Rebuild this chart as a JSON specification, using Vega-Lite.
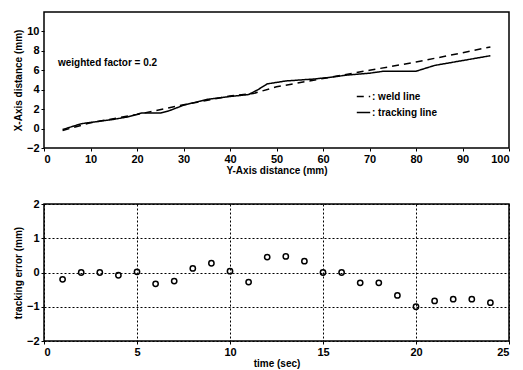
{
  "$schema": "https://vega.github.io/schema/vega-lite/v6.json",
  "background": "white",
  "padding": {"left": 12, "top": 11, "right": 10, "bottom": 2},
  "spacing": 21,
  "config": {
    "font": "Liberation Sans",
    "view": {"stroke": "black", "strokeWidth": 1.5},
    "axis": {
      "labelFont": "Liberation Sans", "labelFontWeight": "bold", "labelFontSize": 11, "labelColor": "black",
      "titleFont": "Liberation Sans", "titleFontWeight": "bold", "titleFontSize": 10, "titleColor": "black",
      "domain": false, "tickColor": "black", "tickSize": 3, "tickWidth": 1, "labelPadding": 2, "labelOverlap": false
    }
  },
  "datasets": {
    "path": [
      {"series": "weld line", "y": 4, "x": -0.2},
      {"series": "weld line", "y": 10, "x": 0.6},
      {"series": "weld line", "y": 20, "x": 1.45},
      {"series": "weld line", "y": 30, "x": 2.45},
      {"series": "weld line", "y": 40, "x": 3.35},
      {"series": "weld line", "y": 45, "x": 3.6},
      {"series": "weld line", "y": 50, "x": 4.3},
      {"series": "weld line", "y": 60, "x": 5.15},
      {"series": "weld line", "y": 70, "x": 6.0},
      {"series": "weld line", "y": 80, "x": 6.85},
      {"series": "weld line", "y": 90, "x": 7.8},
      {"series": "weld line", "y": 96, "x": 8.4},
      {"series": "tracking line", "y": 4, "x": -0.1},
      {"series": "tracking line", "y": 8, "x": 0.5},
      {"series": "tracking line", "y": 15, "x": 0.95},
      {"series": "tracking line", "y": 18, "x": 1.2},
      {"series": "tracking line", "y": 21, "x": 1.6},
      {"series": "tracking line", "y": 25, "x": 1.6},
      {"series": "tracking line", "y": 27, "x": 1.85},
      {"series": "tracking line", "y": 30, "x": 2.4},
      {"series": "tracking line", "y": 35, "x": 3.0},
      {"series": "tracking line", "y": 40, "x": 3.3},
      {"series": "tracking line", "y": 44, "x": 3.5},
      {"series": "tracking line", "y": 46, "x": 4.0},
      {"series": "tracking line", "y": 48, "x": 4.6},
      {"series": "tracking line", "y": 52, "x": 4.9},
      {"series": "tracking line", "y": 58, "x": 5.1},
      {"series": "tracking line", "y": 62, "x": 5.3},
      {"series": "tracking line", "y": 65, "x": 5.5},
      {"series": "tracking line", "y": 70, "x": 5.7},
      {"series": "tracking line", "y": 73, "x": 5.9},
      {"series": "tracking line", "y": 80, "x": 5.9},
      {"series": "tracking line", "y": 84, "x": 6.5},
      {"series": "tracking line", "y": 90, "x": 7.0},
      {"series": "tracking line", "y": 96, "x": 7.5}
    ],
    "note": [{"y": 3, "x": 6.8, "label": "weighted factor = 0.2"}],
    "err": [
      {"t": 1, "e": -0.2}, {"t": 2, "e": 0}, {"t": 3, "e": 0}, {"t": 4, "e": -0.08},
      {"t": 5, "e": 0.02}, {"t": 6, "e": -0.33}, {"t": 7, "e": -0.25}, {"t": 8, "e": 0.12},
      {"t": 9, "e": 0.27}, {"t": 10, "e": 0.04}, {"t": 11, "e": -0.28}, {"t": 12, "e": 0.45},
      {"t": 13, "e": 0.47}, {"t": 14, "e": 0.33}, {"t": 15, "e": 0}, {"t": 16, "e": 0},
      {"t": 17, "e": -0.3}, {"t": 18, "e": -0.3}, {"t": 19, "e": -0.67}, {"t": 20, "e": -1.0},
      {"t": 21, "e": -0.83}, {"t": 22, "e": -0.78}, {"t": 23, "e": -0.78}, {"t": 24, "e": -0.88}
    ]
  },
  "vconcat": [
    {
      "width": 465,
      "height": 136,
      "encoding": {
        "x": {"field": "y", "type": "quantitative", "scale": {"domain": [0, 100], "nice": false},
              "axis": {"values": [0,10,20,30,40,50,60,70,80,90,100], "title": "Y-Axis distance (mm)", "titlePadding": 1, "grid": false, "labelOverlap": false}},
        "y": {"field": "x", "type": "quantitative", "scale": {"domain": [-2, 12], "nice": false},
              "axis": {"values": [-2,0,2,4,6,8,10], "title": "X-Axis distance (mm)", "titlePadding": 3, "grid": false, "labelOverlap": false}}
      },
      "layer": [
        {
          "data": {"name": "path"},
          "mark": {"type": "line", "color": "black", "strokeWidth": 1.5},
          "encoding": {
            "strokeDash": {"field": "series", "type": "nominal",
              "scale": {"domain": ["weld line", "tracking line"], "range": [[7,5],[1,0]]},
              "legend": {"orient": "none", "legendX": 312, "legendY": 77, "title": null, "symbolType": "stroke",
                "symbolStrokeColor": "black", "symbolStrokeWidth": 1.5, "symbolSize": 180,
                "labelExpr": "': ' + datum.label", "labelFont": "Liberation Sans", "labelFontWeight": "bold",
                "labelFontSize": 10, "rowPadding": 3, "labelOffset": 1}}
          }
        },
        {
          "data": {"name": "note"},
          "mark": {"type": "text", "align": "left", "baseline": "middle", "fontWeight": "bold", "fontSize": 10, "color": "black", "font": "Liberation Sans"},
          "encoding": {
            "text": {"field": "label"}
          }
        }
      ]
    },
    {
      "width": 465,
      "height": 137,
      "data": {"name": "err"},
      "mark": {"type": "point", "shape": "circle", "filled": false, "color": "black", "strokeWidth": 1.5, "size": 28, "opacity": 1},
      "encoding": {
        "x": {"field": "t", "type": "quantitative", "scale": {"domain": [0, 25], "nice": false},
              "axis": {"values": [0,5,10,15,20,25], "title": "time (sec)", "titlePadding": 1, "labelOverlap": false,
                       "grid": true, "gridColor": "black", "gridDash": [2,2], "gridOpacity": 1, "gridWidth": 1}},
        "y": {"field": "e", "type": "quantitative", "scale": {"domain": [-2, 2], "nice": false},
              "axis": {"values": [-2,-1,0,1,2], "title": "tracking error (mm)", "titlePadding": 3, "labelOverlap": false,
                       "grid": true, "gridColor": "black", "gridDash": [2,2], "gridOpacity": 1, "gridWidth": 1}}
      }
    }
  ]
}
